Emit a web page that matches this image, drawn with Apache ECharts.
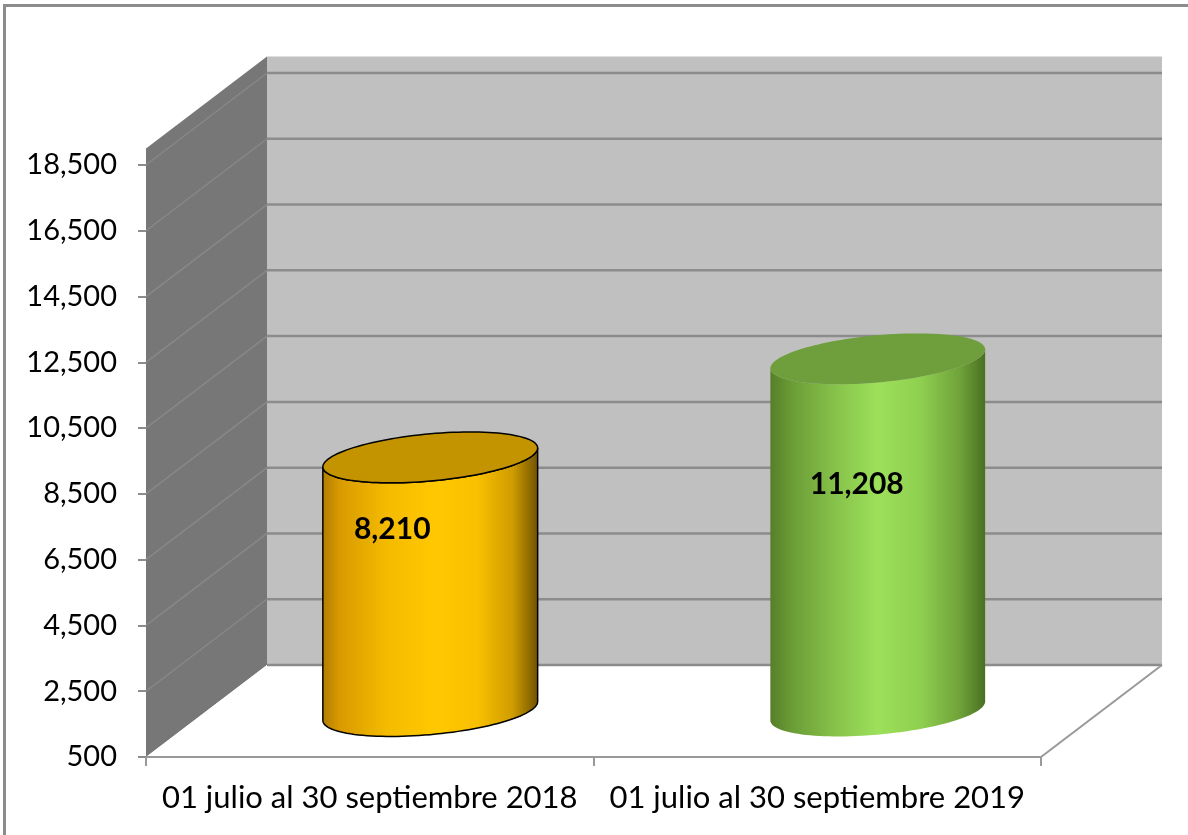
<!DOCTYPE html>
<html><head><meta charset="utf-8">
<script src="https://cdn.jsdelivr.net/npm/echarts@6/dist/echarts.min.js"></script>
<style>html,body{margin:0;padding:0;background:#fff}#chart{width:1188px;height:835px}</style>
</head><body><div id="chart"></div>
<script>
// ---- data ----
const categories = ['01 julio al 30 septiembre 2018', '01 julio al 30 septiembre 2019'];
const values = [8210, 11208];
const yTicks = [500, 2500, 4500, 6500, 8500, 10500, 12500, 14500, 16500, 18500];
const yMin = 500, yMax = 18500, yStep = 2000, wallTop = 19000;

// ---- style ----
const DX = 121, DY = -92;          // 3D depth offset in px
const FONT = 'Lato, "Open Sans", sans-serif';
const bodyStops = [
  [[0,'#b07c00'],[0.08,'#d89a00'],[0.3,'#f4bb00'],[0.52,'#ffc800'],[0.72,'#f8c000'],[0.88,'#d09c00'],[1,'#6e5200']],
  [[0,'#567f2a'],[0.1,'#6b9c36'],[0.3,'#86c24a'],[0.5,'#9de05a'],[0.7,'#8fcf50'],[0.88,'#70a33a'],[1,'#4a7022']]
];
const topFill = ['#c49400', '#6f9e3c'];
const outline = ['#000', null];
const labelOff = [[-38, 72], [-21, 126]];

function bgRender(params, api) {
  const cs = params.coordSys;
  const x0 = cs.x, x1 = cs.x + cs.width;
  const yAt = v => api.coord([0, v])[1];
  const yB = yAt(yMin), yT = yAt(wallTop);
  const ch = [];
  ch.push({type:'polygon', shape:{points:[[x0+DX,yT+DY],[x1+DX,yT+DY],[x1+DX,yB+DY],[x0+DX,yB+DY]]}, style:{fill:'#c0c0c0'}});
  ch.push({type:'polygon', shape:{points:[[x0,yT],[x0+DX,yT+DY],[x0+DX,yB+DY],[x0,yB]]}, style:{fill:'#777777'}});
  ch.push({type:'polygon', shape:{points:[[x0,yB],[x1,yB],[x1+DX,yB+DY],[x0+DX,yB+DY]]}, style:{fill:'#ffffff'}});
  yTicks.forEach(v => {
    const y = yAt(v);
    ch.push({type:'line', shape:{x1:x0+DX,y1:y+DY,x2:x1+DX,y2:y+DY}, style:{stroke:'#8c8c8c', lineWidth:2.5}});
    if (v !== yMin) ch.push({type:'line', shape:{x1:x0,y1:y,x2:x0+DX,y2:y+DY}, style:{stroke:'#888888', lineWidth:1.5}});
  });
  ch.push({type:'line', shape:{x1:x1,y1:yB,x2:x1+DX,y2:yB+DY}, style:{stroke:'#999999', lineWidth:2}});
  return {type:'group', children:ch};
}

function cylRender(params, api) {
  const i = api.value(0), v = api.value(1);
  const base = api.coord([i, yMin]), top = api.coord([i, v]);
  const cx = base[0] + DX/2;
  const cyB = base[1] + DY/2, cyT = top[1] + DY/2;
  const rx = api.size([1, 0])[0] * 0.48 / 2;
  const ry = rx * 0.22, k = 0.088;
  const pt = (cy, t) => [cx + rx*Math.cos(t), cy + ry*Math.sin(t) - k*rx*Math.cos(t)];
  const N = 60;
  const body = [];
  for (let j = 0; j <= N; j++) body.push(pt(cyB, Math.PI - Math.PI*j/N));
  for (let j = 0; j <= N; j++) body.push(pt(cyT, Math.PI*j/N));
  const cap = [];
  for (let j = 0; j < 2*N; j++) cap.push(pt(cyT, Math.PI*j/N));
  const grad = new echarts.graphic.LinearGradient(0,0,1,0, bodyStops[i].map(s=>({offset:s[0], color:s[1]})));
  const st = outline[i] ? {stroke: outline[i], lineWidth: 1.5} : {};
  return {type:'group', children:[
    {type:'polygon', shape:{points:body}, style:Object.assign({fill:grad}, st)},
    {type:'polygon', shape:{points:cap}, style:Object.assign({fill:topFill[i]}, st)},
    {type:'text', x: cx + labelOff[i][0], y: cyT + labelOff[i][1],
     style:{text: v.toLocaleString('en-US'), fill:'#000', font:'bold 30px ' + FONT, align:'center', verticalAlign:'middle'}}
  ]};
}

const chart = echarts.init(document.getElementById('chart'), null, {renderer:'canvas'});
chart.setOption({
  animation: false,
  backgroundColor: '#ffffff',
  graphic: [{type:'rect', shape:{x:4.5, y:5.5, width:1400, height:1000}, style:{fill:'none', stroke:'#8c8c8c', lineWidth:3}, z:100}],
  grid: {left:146, top:165, width:895, height:592, containLabel:false},
  xAxis: {type:'category', data:categories, z:10,
    axisLine:{show:true, lineStyle:{color:'#999999', width:2}},
    axisTick:{show:true, length:9, lineStyle:{color:'#999999', width:2}},
    axisLabel:{color:'#000', fontSize:31, fontFamily:FONT, margin:25, interval:0, hideOverlap:false},
    splitLine:{show:false}},
  yAxis: {type:'value', min:yMin, max:yMax, interval:yStep, z:10,
    axisLine:{show:false},
    axisTick:{show:true, length:8, lineStyle:{color:'#8c8c8c', width:2}},
    axisLabel:{color:'#000', fontSize:29, fontFamily:FONT, margin:29, formatter:v=>v.toLocaleString('en-US')},
    splitLine:{show:false}},
  series: [
    {type:'custom', renderItem:bgRender, data:[[0, yMin]], z:1, silent:true, clip:false},
    {type:'custom', renderItem:cylRender, data:values.map((v,i)=>[i,v]), z:5, clip:false,
     encode:{x:0, y:1}}
  ]
});
</script></body></html>
